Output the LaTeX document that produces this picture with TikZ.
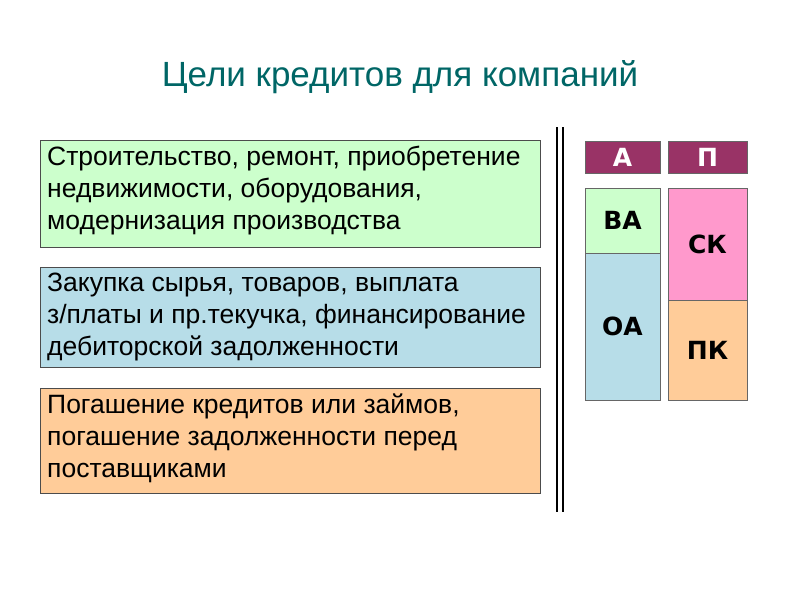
\documentclass[tikz,border=0pt]{standalone}
\usepackage{fontspec}
\setmainfont{Liberation Sans}
\newfontfamily\cellfont{DejaVu Sans}
\begin{document}
\begin{tikzpicture}[x=1pt,y=-1pt,
  goal/.style={anchor=north west,align=left,inner sep=0pt,font=\fontsize{26.5}{32}\selectfont},
  cell/.style={draw=black!60,font=\cellfont\bfseries\fontsize{25}{28}\selectfont}]
\useasboundingbox (0,0) rectangle (800,600);
\definecolor{ttl}{RGB}{0,102,102}
\definecolor{gg}{RGB}{204,255,204}
\definecolor{bb}{RGB}{183,221,232}
\definecolor{pp}{RGB}{255,204,153}
\definecolor{mm}{RGB}{153,51,102}
\definecolor{pk}{RGB}{255,153,204}
\node[text=ttl,font=\fontsize{35}{40}\selectfont] (t) at (400,77) {Цели кредитов для компаний};
\path[draw=black!70,fill=gg] (40,140) rectangle (540,247);
\path[draw=black!70,fill=bb] (40,267) rectangle (540,367);
\path[draw=black!70,fill=pp] (40,388) rectangle (540,493);
\node[goal] (g1) at (47,146) {Строительство, ремонт, приобретение\\недвижимости, оборудования,\\модернизация производства};
\node[goal] (g2) at (47,273) {Закупка сырья, товаров, выплата\\з/платы и пр.текучка, финансирование\\дебиторской задолженности};
\node[goal] (g3) at (47,394) {Погашение кредитов или займов,\\погашение задолженности перед\\поставщиками};
\draw[line width=1.5pt] (557,127) -- (557,512) (563,127) -- (563,512);
\node[cell,fill=mm,text=white,minimum width=75pt,minimum height=32pt] (a) at (622.5,157) {А};
\node[cell,fill=mm,text=white,minimum width=79pt,minimum height=32pt] (p) at (707.5,157) {П};
\node[cell,fill=gg,minimum width=75pt,minimum height=65pt] (va) at (622.5,220.5) {ВА};
\node[cell,fill=bb,minimum width=75pt,minimum height=147pt] (oa) at (622.5,326.5) {ОА};
\node[cell,fill=pk,minimum width=79pt,minimum height=112pt] (sk) at (707.5,244) {СК};
\node[cell,fill=pp,minimum width=79pt,minimum height=100pt] (pk) at (707.5,350) {ПК};
\end{tikzpicture}
\end{document}
